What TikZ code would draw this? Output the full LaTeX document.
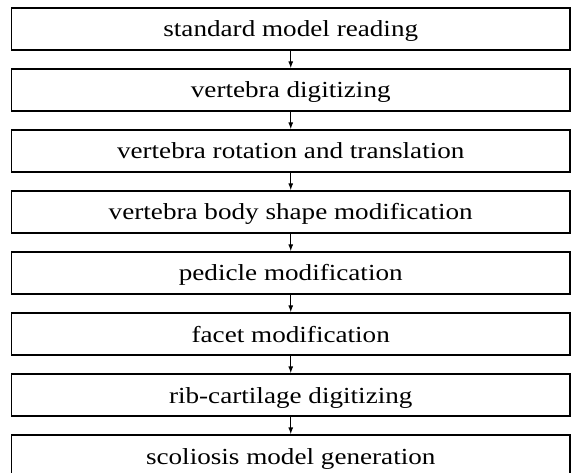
\documentclass[tikz,border=0pt]{standalone}
\usepackage{fontspec}
\newfontfamily\boxfont[FakeStretch=1.18]{Liberation Serif}
\usetikzlibrary{arrows.meta}
\tikzset{
  stepbox/.style={draw=black, line width=1.2pt, minimum width=558.5pt, minimum height=42pt,
    inner sep=0pt, text height=16pt, text depth=0pt,
    font=\boxfont\fontsize{23}{27}\selectfont},
  flowarrow/.style={draw=black, line width=1.2pt, -{Latex[length=7pt,width=5pt]}}
}
\begin{document}
\begin{tikzpicture}[x=1pt,y=-1pt]
\useasboundingbox (0,0) rectangle (576,473);
\node[stepbox] (b1) at (290.75,29) {standard model reading};
\node[stepbox] (b2) at (290.75,90) {vertebra digitizing};
\node[stepbox] (b3) at (290.75,151) {vertebra rotation and translation};
\node[stepbox] (b4) at (290.75,212) {vertebra body shape modification};
\node[stepbox] (b5) at (290.75,273) {pedicle modification};
\node[stepbox] (b6) at (290.75,334) {facet modification};
\node[stepbox] (b7) at (290.75,395) {rib-cartilage digitizing};
\node[stepbox] (b8) at (290.75,456) {scoliosis model generation};
\draw[flowarrow] (b1) -- (b2);
\draw[flowarrow] (b2) -- (b3);
\draw[flowarrow] (b3) -- (b4);
\draw[flowarrow] (b4) -- (b5);
\draw[flowarrow] (b5) -- (b6);
\draw[flowarrow] (b6) -- (b7);
\draw[flowarrow] (b7) -- (b8);
\end{tikzpicture}
\end{document}
